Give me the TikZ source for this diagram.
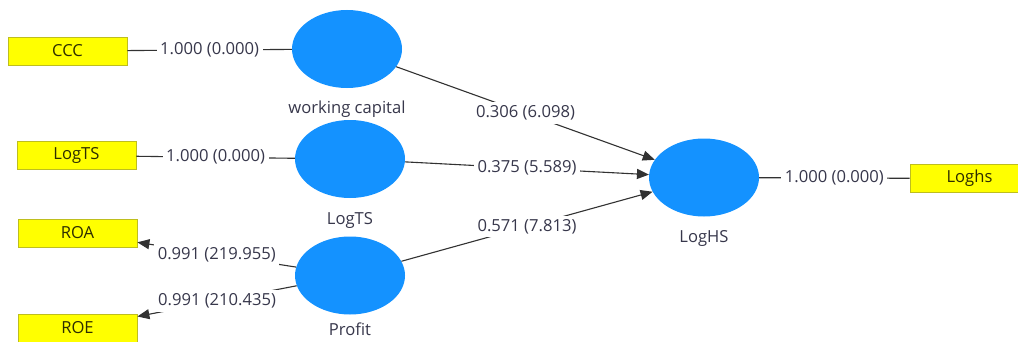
\documentclass[tikz,border=0pt]{standalone}
\usepackage{fontspec}
\setmainfont{Open Sans}
\usetikzlibrary{arrows.meta,shapes.geometric,positioning}

\definecolor{lvblue}{RGB}{20,146,255}
\definecolor{mvyellow}{RGB}{255,255,0}
\definecolor{mvborder}{RGB}{190,190,30}
\definecolor{coefgray}{RGB}{55,55,75}
\definecolor{pathgray}{RGB}{50,50,50}

\begin{document}
\begin{tikzpicture}[x=1pt,y=1pt,>={Triangle[length=12pt,width=10pt]},
	font=\fontsize{16.6}{19}\selectfont,
	latent/.style={ellipse,fill=lvblue,minimum width=110pt,minimum height=78pt,inner sep=0pt},
	indicator/.style={rectangle,fill=mvyellow,draw=mvborder,line width=0.8pt,minimum width=119pt,minimum height=28pt,inner sep=0pt,text={rgb,255:red,45;green,45;blue,0}},
	coef/.style={fill=white,inner sep=3.5pt,text=coefgray},
	every label/.style={text=coefgray,inner sep=2pt},
	every edge/.style={draw=pathgray,line width=1.1pt}]

\fill[white] (0,0) rectangle (1018,341);
\useasboundingbox (0,0) rectangle (1018,341);

\node[latent,label={[label distance=10pt]below:working capital}]   (wc) at (347,292)   {};
\node[latent,label={[label distance=12pt]below:LogTS},node distance=110pt]   (ts)[below of=wc,xshift=3pt]   {};
\node[latent,label={[label distance=6pt]below:Profit},node distance=116.5pt]   (pr)[below of=ts]   {};
\node[latent,label={[label distance=12pt]below:LogHS},node distance=354pt]   (hs)[right of=ts,yshift=-18.5pt]   {};

\node[indicator,node distance=279.5pt]   (ccc)[left of=wc,yshift=-2pt]   {CCC};
\node[indicator,node distance=273.5pt]   (lts)[left of=ts,yshift=3.5pt]   {LogTS};
\node[indicator,node distance=272.5pt]   (roa)[left of=pr,yshift=42.5pt]   {ROA};
\node[indicator,node distance=272.5pt]   (roe)[left of=pr,yshift=-52.5pt]   {ROE};
\node[indicator,node distance=265.5pt]   (lhs)[right of=hs,yshift=-1pt]   {Loghs};

	\path (ccc)  edge	node[coef]{1.000 (0.000)}	(wc)
			(lts)  edge	node[coef]{1.000 (0.000)}	(ts)
			(hs)  edge	node[coef]{1.000 (0.000)}	(lhs);

	\path[->] (pr)  edge	node[coef]{0.991 (219.955)}	(roa)
						edge	node[coef]{0.991 (210.435)}	(roe)
						edge	node[coef]{0.571 (7.813)}	(hs)
				(wc)  edge	node[coef]{0.306 (6.098)}	(hs)
				(ts)  edge	node[coef]{0.375 (5.589)}	(hs);

\end{tikzpicture}
\end{document}
